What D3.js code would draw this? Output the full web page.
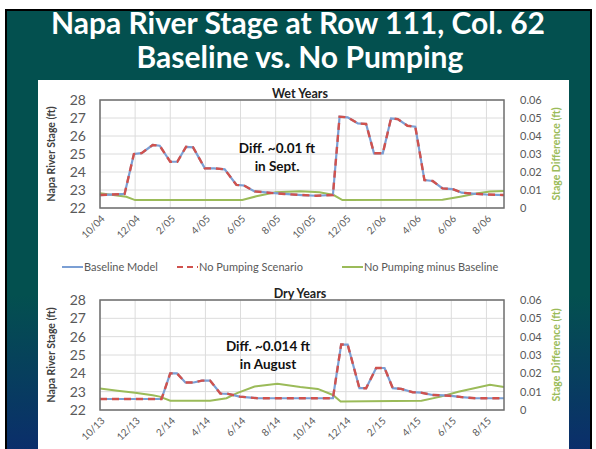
<!DOCTYPE html>
<html>
<head>
<meta charset="utf-8">
<script src="https://cdn.jsdelivr.net/npm/d3@7"></script>
<style>
  body { margin: 0; background: #fff; }
  svg text { font-family: Lato, "Open Sans", sans-serif; }
</style>
</head>
<body>
<svg id="chart" width="596" height="449"></svg>
<script>
// tick labels (every 2 months)
var wetTicks = ['10/04', '12/04', '2/05', '4/05', '6/05', '8/05', '10/05', '12/05', '2/06', '4/06', '6/06', '8/06'];
var dryTicks = ['10/13', '12/13', '2/14', '4/14', '6/14', '8/14', '10/14', '12/14', '2/15', '4/15', '6/15', '8/15'];

// wet years: months since start, river stage (baseline and no pumping overlap)
var wetStageT = [0, 1.4, 1.93, 2.37, 3.0, 3.4, 4.0, 4.4, 4.9, 5.3, 5.97, 6.5, 7.1, 7.77, 8.2, 8.8, 9.6, 10.5, 11.5, 12.3,
  13.26, 13.64, 14.1, 14.68, 15.15, 15.6, 16.1, 16.57, 16.95, 17.5, 17.95, 18.47, 18.94, 19.5, 20.07, 20.6, 21.2, 21.97, 23];
var wetStage = [22.72, 22.78, 25.0, 25.05, 25.5, 25.46, 24.57, 24.57, 25.4, 25.37, 24.2, 24.2, 24.15, 23.28, 23.25, 22.92, 22.85, 22.78, 22.72, 22.68,
  22.72, 27.07, 27.04, 26.7, 26.67, 25.04, 25.04, 26.98, 26.94, 26.57, 26.52, 23.55, 23.5, 23.09, 23.05, 22.85, 22.8, 22.75, 22.72];
var wetDiffT = [0, 1.5, 2.0, 8.1, 8.9, 10.0, 11.4, 12.5, 13.3, 13.8, 19.5, 20.5, 21.5, 22.2, 23];
var wetDiff = [0.0082, 0.0062, 0.0044, 0.0045, 0.0065, 0.0087, 0.0093, 0.0088, 0.0072, 0.0044, 0.0046, 0.0063, 0.0082, 0.0092, 0.0094];

// dry years
var dryStageT = [0, 3.5, 4.0, 4.38, 4.86, 5.33, 5.8, 6.27, 6.85, 7.3, 7.95, 9, 11, 13.26,
  13.73, 14.1, 14.77, 15.15, 15.72, 16.2, 16.67, 17.15, 17.8, 18.27, 18.93, 19.88, 20.6, 21.4, 23];
var dryStage = [22.6, 22.6, 24.0, 24.0, 23.5, 23.5, 23.6, 23.6, 22.9, 22.88, 22.73, 22.64, 22.64, 22.64,
  25.57, 25.57, 23.19, 23.19, 24.29, 24.29, 23.19, 23.15, 22.97, 22.95, 22.82, 22.78, 22.7, 22.64, 22.64];
var dryDiffT = [0, 1, 2, 3, 3.4, 4.0, 6.27, 7.2, 7.8, 8.8, 10.1, 11.4, 12.4, 13.26, 13.7, 18.3, 19.4, 20.4, 22.2, 23];
var dryDiff = [0.0117, 0.0105, 0.0094, 0.008, 0.0073, 0.0051, 0.0051, 0.0064, 0.0092, 0.0128, 0.0143, 0.0125, 0.0115, 0.0082, 0.0046, 0.0051, 0.0073, 0.01, 0.0137, 0.0125];

var stageTicks = [22, 23, 24, 25, 26, 27, 28];
var diffTicks = [0, 0.01, 0.02, 0.03, 0.04, 0.05, 0.06];

var blue = '#7b9fd4', red = '#d0524e', green = '#9bbb59', grey = '#595959';

var svg = d3.select('#chart');

var defs = svg.append('defs');
var grad = defs.append('linearGradient')
  .attr('id', 'bg')
  .attr('x1', 0).attr('y1', 0).attr('x2', 0).attr('y2', 1);
grad.append('stop').attr('offset', '0%').attr('stop-color', '#03504f');
grad.append('stop').attr('offset', '64%').attr('stop-color', '#03504f');
grad.append('stop').attr('offset', '100%').attr('stop-color', '#0b2d6c');

svg.append('rect')
  .attr('x', 6).attr('y', 10)
  .attr('width', 585).attr('height', 445)
  .attr('fill', 'url(#bg)')
  .attr('stroke', '#000')
  .attr('stroke-width', 2);

svg.append('text')
  .attr('x', 298).attr('y', 34)
  .attr('text-anchor', 'middle')
  .attr('fill', '#fff')
  .attr('font-weight', 'bold')
  .attr('font-size', 30)
  .text('Napa River Stage at Row 111, Col. 62');

svg.append('text')
  .attr('x', 300).attr('y', 68)
  .attr('text-anchor', 'middle')
  .attr('fill', '#fff')
  .attr('font-weight', 'bold')
  .attr('font-size', 30)
  .text('Baseline vs. No Pumping');

svg.append('rect')
  .attr('x', 38).attr('y', 80)
  .attr('width', 531).attr('height', 369)
  .attr('fill', '#fff');

var x = d3.scaleLinear().domain([0, 23]).range([100, 504]);

function drawPanel(top, bottom, title, ticks, stageT, stage, diffT, diff, note, noteX, noteY) {
  var y = d3.scaleLinear().domain([22, 28]).range([bottom, top]);
  var y2 = d3.scaleLinear().domain([0, 0.06]).range([bottom, top]);
  var g = svg.append('g');

  // grid
  g.selectAll('.hgrid')
    .data(stageTicks)
    .enter().append('line')
    .attr('x1', x(0)).attr('x2', x(23))
    .attr('y1', function(d) { return y(d); })
    .attr('y2', function(d) { return y(d); })
    .attr('stroke', '#dcdcdc');

  g.selectAll('.vgrid')
    .data(ticks)
    .enter().append('line')
    .attr('x1', function(d, i) { return x(i * 2); })
    .attr('x2', function(d, i) { return x(i * 2); })
    .attr('y1', top).attr('y2', bottom)
    .attr('stroke', '#dcdcdc');

  // lines
  var pts = d3.range(stageT.length).map(function(i) { return [stageT[i], stage[i]]; });
  var dpts = d3.range(diffT.length).map(function(i) { return [diffT[i], diff[i]]; });

  var line = d3.line()
    .x(function(d) { return x(d[0]); })
    .y(function(d) { return y(d[1]); });
  var line2 = d3.line()
    .x(function(d) { return x(d[0]); })
    .y(function(d) { return y2(d[1]); });

  g.append('path')
    .attr('d', line2(dpts))
    .attr('fill', 'none')
    .attr('stroke', green)
    .attr('stroke-width', 2);

  g.append('path')
    .attr('d', line(pts))
    .attr('fill', 'none')
    .attr('stroke', blue)
    .attr('stroke-width', 2.2);

  g.append('path')
    .attr('d', line(pts))
    .attr('fill', 'none')
    .attr('stroke', red)
    .attr('stroke-width', 2.4)
    .attr('stroke-dasharray', '7,5');

  // frame
  g.append('rect')
    .attr('x', x(0)).attr('y', top)
    .attr('width', x(23) - x(0)).attr('height', bottom - top)
    .attr('fill', 'none')
    .attr('stroke', '#6e6e6e')
    .attr('stroke-width', 1.5);

  // left axis
  g.selectAll('.ly')
    .data(stageTicks)
    .enter().append('text')
    .attr('x', 86)
    .attr('y', function(d) { return y(d); })
    .attr('dy', '0.35em')
    .attr('text-anchor', 'end')
    .attr('font-size', 14)
    .attr('fill', grey)
    .text(function(d) { return d; });

  // right axis
  g.selectAll('.ry')
    .data(diffTicks)
    .enter().append('text')
    .attr('x', 520)
    .attr('y', function(d) { return y2(d); })
    .attr('dy', '0.35em')
    .attr('font-size', 11)
    .attr('fill', grey)
    .text(function(d) { return d === 0 ? '0' : d3.format('.2f')(d); });

  // x tick labels
  g.selectAll('.xl')
    .data(ticks)
    .enter().append('text')
    .attr('transform', function(d, i) {
      return 'translate(' + (x(i * 2) + 3) + ',' + (bottom + 9) + ') rotate(-45)';
    })
    .attr('text-anchor', 'end')
    .attr('dy', '0.35em')
    .attr('font-size', 10)
    .attr('fill', grey)
    .text(function(d) { return d; });

  // titles
  g.append('text')
    .attr('x', 300).attr('y', top - 2)
    .attr('text-anchor', 'middle')
    .attr('font-size', 12.5)
    .attr('font-weight', 'bold')
    .attr('fill', '#222')
    .text(title);

  var mid = (top + bottom) / 2;
  g.append('text')
    .attr('transform', 'translate(55,' + mid + ') rotate(-90)')
    .attr('text-anchor', 'middle')
    .attr('font-size', 10.5)
    .attr('font-weight', 'bold')
    .attr('fill', '#404040')
    .text('Napa River Stage (ft)');

  g.append('text')
    .attr('transform', 'translate(560,' + mid + ') rotate(-90)')
    .attr('text-anchor', 'middle')
    .attr('font-size', 10.5)
    .attr('font-weight', 'bold')
    .attr('fill', green)
    .text('Stage Difference (ft)');

  // annotation
  g.selectAll('.note')
    .data(note)
    .enter().append('text')
    .attr('x', noteX)
    .attr('y', function(d, i) { return noteY + i * 18; })
    .attr('text-anchor', 'middle')
    .attr('font-size', 13.5)
    .attr('font-weight', 'bold')
    .attr('fill', '#111')
    .text(function(d) { return d; });
}

drawPanel(100, 208, 'Wet Years', wetTicks, wetStageT, wetStage, wetDiffT, wetDiff,
  ['Diff. ~0.01 ft', 'in Sept.'], 277, 153);
drawPanel(300, 410, 'Dry Years', dryTicks, dryStageT, dryStage, dryDiffT, dryDiff,
  ['Diff. ~0.014 ft', 'in August'], 268, 351);

// legend
var legend = [
  { name: 'Baseline Model', color: blue, dash: null, x: 62 },
  { name: 'No Pumping Scenario', color: red, dash: '6,4', x: 177 },
  { name: 'No Pumping minus Baseline', color: green, dash: null, x: 342 }
];

var lg = svg.append('g').selectAll('g')
  .data(legend)
  .enter().append('g')
  .attr('transform', function(d) { return 'translate(' + d.x + ',267)'; });

lg.append('line')
  .attr('x1', 0).attr('x2', 21)
  .attr('stroke', function(d) { return d.color; })
  .attr('stroke-width', 2)
  .attr('stroke-dasharray', function(d) { return d.dash; });

lg.append('text')
  .attr('x', 22).attr('dy', '0.35em')
  .attr('font-size', 11)
  .attr('fill', grey)
  .text(function(d) { return d.name; });
</script>
</body>
</html>
